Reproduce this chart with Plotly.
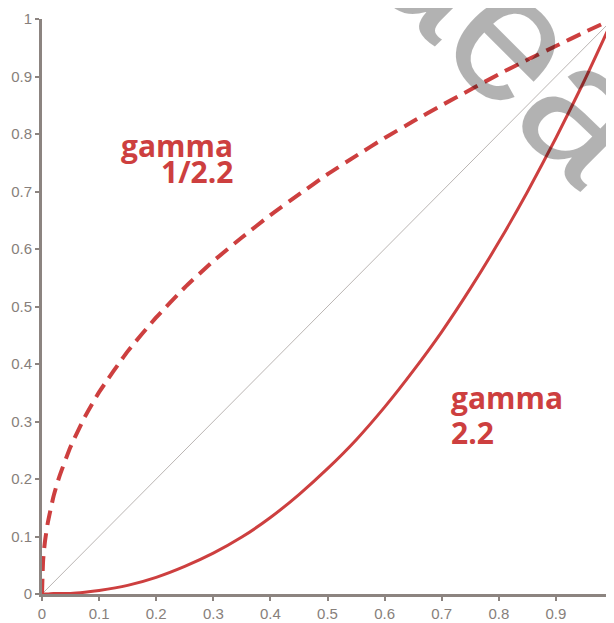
import plotly.graph_objects as go

# ---- data ----
x_vals = [0, 0.002, 0.005, 0.01, 0.02, 0.03, 0.05, 0.075, 0.1, 0.15, 0.2, 0.25, 0.3, 0.35,
          0.4, 0.45, 0.5, 0.55, 0.6, 0.65, 0.7, 0.75, 0.8, 0.85, 0.9, 0.95, 1.0]
gamma_inv_vals = [0, 0.059, 0.090, 0.123, 0.169, 0.203, 0.256, 0.308, 0.351, 0.422, 0.481, 0.533,
                  0.579, 0.620, 0.659, 0.695, 0.730, 0.762, 0.793, 0.822, 0.850, 0.877, 0.904,
                  0.929, 0.953, 0.977, 1.0]
gamma_vals = [0, 0, 0, 0, 0.001, 0.001, 0.001, 0.003, 0.006, 0.015, 0.029, 0.048, 0.071, 0.099,
              0.133, 0.173, 0.218, 0.268, 0.325, 0.388, 0.456, 0.531, 0.612, 0.699, 0.793, 0.893, 1.0]
diag_x = [0, 1]
diag_y = [0, 1]
x_ticks = [0, 0.1, 0.2, 0.3, 0.4, 0.5, 0.6, 0.7, 0.8, 0.9]
y_ticks = [0, 0.1, 0.2, 0.3, 0.4, 0.5, 0.6, 0.7, 0.8, 0.9, 1]
x_tick_text = ["0", "0.1", "0.2", "0.3", "0.4", "0.5", "0.6", "0.7", "0.8", "0.9"]
y_tick_text = ["0", "0.1", "0.2", "0.3", "0.4", "0.5", "0.6", "0.7", "0.8", "0.9", "1"]

RED = "#cd3f3f"
AXIS = "#8c8480"
LABEL = "#877f7b"

fig = go.Figure()
fig.add_trace(go.Scatter(x=diag_x, y=diag_y, mode="lines",
                         line=dict(color="#a8a2a0", width=0.8), hoverinfo="skip"))
fig.add_trace(go.Scatter(x=x_vals, y=gamma_inv_vals, mode="lines",
                         line=dict(color=RED, width=4, dash="15px,8px", shape="spline",
                                   smoothing=0.5)))
fig.add_trace(go.Scatter(x=x_vals, y=gamma_vals, mode="lines",
                         line=dict(color=RED, width=3, shape="spline", smoothing=0.5)))

OFF = 8  # page body margin
W, H = 606, 615
L, R, T, B = 34, 1, 11, 29
pw, ph = W - L - R, H - T - B

def px_x(p):  # page pixel -> paper
    return (p - OFF - L) / pw

def px_y(p):
    return (H - B - (p - OFF)) / ph

lab_font = dict(family="Open Sans", size=30, color=RED)
annots = [
    dict(text="<b>gamma</b>", x=px_x(234), y=px_y(145), xanchor="right", yanchor="middle"),
    dict(text="<b>1/2.2</b>", x=px_x(234), y=px_y(172), xanchor="right", yanchor="middle"),
    dict(text="<b>gamma</b>", x=px_x(450), y=px_y(397), xanchor="left", yanchor="middle"),
    dict(text="<b>2.2</b>", x=px_x(450), y=px_y(432), xanchor="left", yanchor="middle"),
]
for a in annots:
    fig.add_annotation(xref="paper", yref="paper", showarrow=False, font=lab_font,
                       borderpad=0, **a)

# watermark
fig.add_annotation(xref="paper", yref="paper", x=px_x(516), y=px_y(38), text="aea",
                   showarrow=False, textangle=45, xanchor="center", yanchor="middle",
                   font=dict(family="Liberation Sans", size=185, color="rgba(0,0,0,0.3)"))

fig.update_layout(
    width=W, height=H, margin=dict(l=L, r=R, t=T, b=B, autoexpand=False),
    paper_bgcolor="white", plot_bgcolor="white", showlegend=False,
    font=dict(family="Liberation Sans", size=15, color=LABEL),
)
fig.update_xaxes(range=[0, 1], automargin=False, showgrid=False, zeroline=False, showline=True,
                 linecolor=AXIS, linewidth=3, ticks="outside", ticklen=4, tickwidth=1.5,
                 tickcolor=AXIS, tickvals=x_ticks, ticktext=x_tick_text,
                 tickfont=dict(size=15, color=LABEL))
fig.update_yaxes(range=[0, 1], automargin=False, showgrid=False, zeroline=False, showline=True,
                 linecolor=AXIS, linewidth=3, ticks="outside", ticklen=4, tickwidth=1.5,
                 tickcolor=AXIS, tickvals=y_ticks, ticktext=y_tick_text,
                 tickfont=dict(size=15, color=LABEL))

fig.write_html("out.html")
